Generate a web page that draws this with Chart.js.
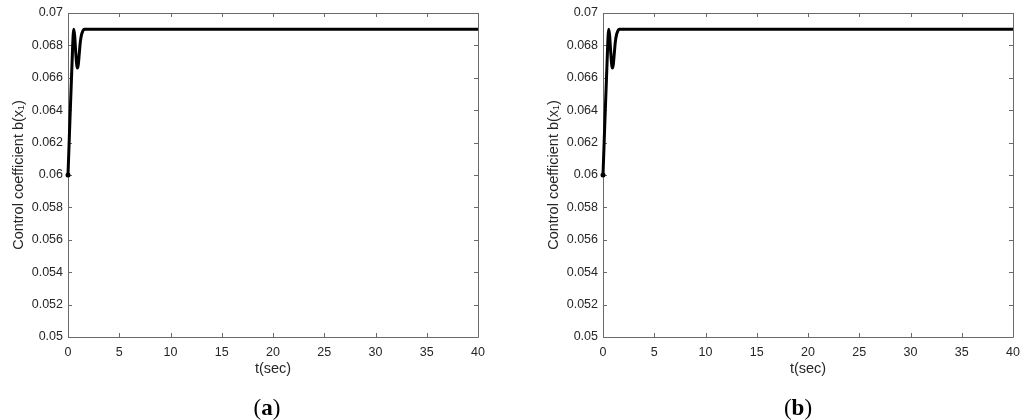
<!DOCTYPE html>
<html>
<head>
<meta charset="utf-8">
<script src="https://cdn.jsdelivr.net/npm/chart.js@4.4.1/dist/chart.umd.min.js"></script>
<style>
  html, body { margin: 0; padding: 0; background: #fff; }
  body { width: 1024px; height: 420px; position: relative; overflow: hidden; }
  .box { position: absolute; top: 0; width: 489px; height: 420px; }
  .cap { position: absolute; top: 394px; width: 60px; margin-left: -30px; text-align: center;
         font-family: "Liberation Serif", "DejaVu Serif", serif; font-size: 23px; color: #000; line-height: 28px; }
</style>
</head>
<body>
<div class="box" style="left:0px"><canvas id="ca"></canvas></div>
<div class="box" style="left:535px"><canvas id="cb"></canvas></div>
<div class="cap" style="left:267px">(<b>a</b>)</div>
<div class="cap" style="left:798px">(<b>b</b>)</div>
<script>
// ---- data ----
const timeSec = [0, 0.1, 0.2, 0.3, 0.4, 0.5, 0.56, 0.65, 0.75, 0.85, 0.92, 1.0, 1.1, 1.2, 1.3, 1.45, 1.6, 2, 3, 5, 10, 20, 30, 40];
const coeffB  = [0.0600, 0.0618, 0.0636, 0.0653, 0.0670, 0.0686, 0.0690, 0.0686, 0.0676, 0.0668, 0.0666, 0.0668, 0.0675, 0.0682, 0.0686, 0.0689, 0.0690, 0.0690, 0.0690, 0.0690, 0.0690, 0.0690, 0.0690, 0.0690];
const xTickValues = [0, 5, 10, 15, 20, 25, 30, 35, 40];
const xTickLabels = ["0", "5", "10", "15", "20", "25", "30", "35", "40"];
const yTickValues = [0.05, 0.052, 0.054, 0.056, 0.058, 0.06, 0.062, 0.064, 0.066, 0.068, 0.07];
const yTickLabels = ["0.05", "0.052", "0.054", "0.056", "0.058", "0.06", "0.062", "0.064", "0.066", "0.068", "0.07"];
const xTitle = "t(sec)";
const yTitle = "Control coefficient b(x\u2081)";

const FONT = "'Liberation Sans', Arial, 'DejaVu Sans', sans-serif";
const AXIS_COLOR = "#6a6a6a";
const TEXT_COLOR = "#262626";

const boxPlugin = {
  id: 'matlabBox',
  beforeDatasetsDraw(chart) {
    const {ctx, chartArea: a, scales} = chart;
    const tl = 4;
    ctx.save();
    ctx.strokeStyle = AXIS_COLOR;
    ctx.lineWidth = 1;
    ctx.beginPath();
    ctx.rect(Math.round(a.left) + 0.5, Math.round(a.top) + 0.5, Math.round(a.right - a.left), Math.round(a.bottom - a.top));
    ctx.stroke();
    ctx.beginPath();
    scales.x.ticks.forEach(t => {
      const px = Math.round(scales.x.getPixelForValue(t.value)) + 0.5;
      ctx.moveTo(px, a.bottom); ctx.lineTo(px, a.bottom - tl);
      ctx.moveTo(px, a.top); ctx.lineTo(px, a.top + tl);
    });
    scales.y.ticks.forEach(t => {
      const py = Math.round(scales.y.getPixelForValue(t.value)) + 0.5;
      ctx.moveTo(a.left, py); ctx.lineTo(a.left + tl, py);
      ctx.moveTo(a.right, py); ctx.lineTo(a.right - tl, py);
    });
    ctx.stroke();
    ctx.restore();
  }
};

function makeChart(id) {
  const pts = timeSec.map((t, i) => ({x: t, y: coeffB[i]}));
  return new Chart(document.getElementById(id), {
    type: 'line',
    data: {
      datasets: [{
        data: pts,
        borderColor: '#000',
        backgroundColor: '#000',
        borderWidth: 3,
        pointRadius: timeSec.map((t, i) => i === 0 ? 2.5 : 0),
        pointBorderWidth: 0,
        cubicInterpolationMode: 'monotone',
        fill: false,
        clip: false
      }]
    },
    options: {
      responsive: true,
      maintainAspectRatio: false,
      animation: false,
      events: [],
      layout: { padding: { left: 0, right: 11, top: 13, bottom: 40 } },
      plugins: { legend: { display: false }, tooltip: { enabled: false } },
      scales: {
        x: {
          type: 'linear',
          min: 0, max: 40,
          afterBuildTicks: s => { s.ticks = xTickValues.map(v => ({value: v})); },
          afterFit: s => { s.height = 43; s.paddingLeft = 0; s.paddingRight = 0; },
          grid: { display: false, drawTicks: false },
          border: { display: false },
          ticks: {
            padding: 8, maxRotation: 0, autoSkip: false,
            color: TEXT_COLOR,
            font: { family: FONT, size: 12.5 },
            callback: (v) => { const i = xTickValues.indexOf(v); return i >= 0 ? xTickLabels[i] : ''; }
          },
          title: {
            display: true, text: xTitle, color: TEXT_COLOR,
            font: { family: FONT, size: 14.5, lineHeight: 1.2 },
            padding: { top: 0, bottom: 2 }
          }
        },
        y: {
          type: 'linear',
          min: 0.05, max: 0.07,
          afterBuildTicks: s => { s.ticks = yTickValues.map(v => ({value: v})); },
          afterFit: s => { s.width = 68; s.paddingTop = 0; s.paddingBottom = 0; },
          grid: { display: false, drawTicks: false },
          border: { display: false },
          ticks: {
            padding: 5, autoSkip: false,
            color: TEXT_COLOR,
            font: { family: FONT, size: 12.5 },
            callback: (v) => {
              const i = yTickValues.findIndex(t => Math.abs(t - v) < 1e-9);
              return i >= 0 ? yTickLabels[i] : '';
            }
          },
          title: {
            display: true, text: yTitle, color: TEXT_COLOR,
            font: { family: FONT, size: 14.5, lineHeight: 1.2 },
            padding: { top: 10, bottom: 0 }
          }
        }
      }
    },
    plugins: [boxPlugin]
  });
}
makeChart('ca');
makeChart('cb');
</script>
</body>
</html>
